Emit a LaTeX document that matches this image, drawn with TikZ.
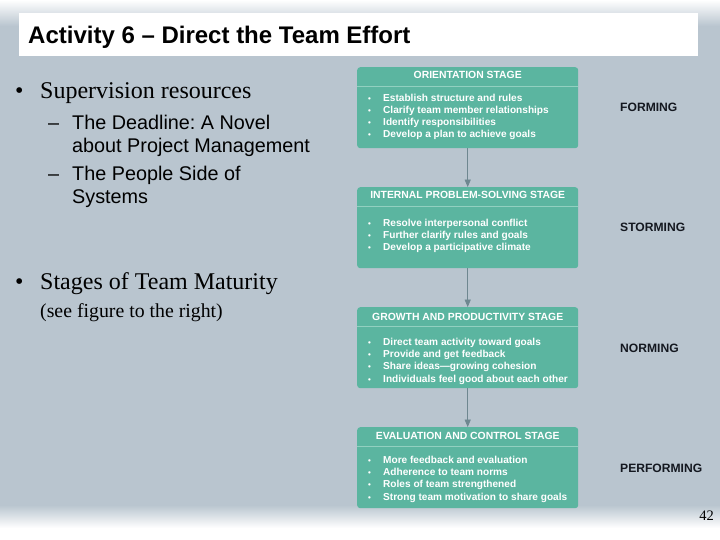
\documentclass[tikz,border=0pt]{standalone}
\usepackage{fontspec}
\setmainfont{Liberation Serif}
\setsansfont{Liberation Sans}
\usetikzlibrary{arrows,positioning}
\frenchspacing

\definecolor{slide}{HTML}{B9C5CF}
\definecolor{stage}{HTML}{5BB5A0}
\definecolor{stageline}{HTML}{92D0C0}
\definecolor{linkgray}{HTML}{6E8790}
\definecolor{ink}{HTML}{141820}

\tikzset{
  stagebox/.style={draw=none,fill=stage,rounded corners=3pt,
    minimum width=221pt,minimum height=81pt,anchor=north west,inner sep=0pt},
  stagehead/.style={text=white,font=\sffamily\bfseries\fontsize{10.4}{12}\selectfont,
    anchor=base,inner sep=0pt},
  stagebody/.style={text=white,font=\sffamily\bfseries\fontsize{10.1}{12.2}\selectfont,
    anchor=base west,align=left,inner sep=0pt},
  phase/.style={text=ink,font=\sffamily\bfseries\fontsize{12.1}{14}\selectfont,
    anchor=base west,inner sep=0pt},
  link/.style={draw=linkgray,line width=0.7pt,-triangle 45}
}
\newcommand{\itm}{\makebox[15pt][l]{\fontsize{8}{8}\selectfont\textbullet}}

\begin{document}
\begin{tikzpicture}[x=1pt,y=-1pt]
  \useasboundingbox (0,0) rectangle (720,540);
  % slide background
  \fill[slide] (0,0) rectangle (720,540);
  \shade[top color=white,bottom color=slide] (0,0) rectangle (720,26);
  \shade[top color=slide,bottom color=white] (0,505) rectangle (720,528);
  \fill[white] (0,528) rectangle (720,540);
  \fill[white] (19,13) rectangle (698,56);
  \node[anchor=base west,inner sep=0pt,font=\sffamily\bfseries\fontsize{24}{26}\selectfont]
    (title) at (28,44) {Activity 6 -- Direct the Team Effort};

  % left column
  \node[anchor=base west,inner sep=0pt,font=\fontsize{24}{26}\selectfont] (sup) at (15,99)
    {\makebox[25pt][l]{\textbullet}Supervision resources};
  \node[anchor=base west,inner sep=0pt,align=left,font=\sffamily\fontsize{19.8}{23}\selectfont]
    (books) at (48,204) {\makebox[24pt][l]{--}The Deadline: A Novel\\
      \hspace*{24pt}about Project Management\\[5pt]
      \makebox[24pt][l]{--}The People Side of\\
      \hspace*{24pt}Systems};
  \node[anchor=base west,inner sep=0pt,font=\fontsize{24}{26}\selectfont] (stg) at (15,289)
    {\makebox[25pt][l]{\textbullet}Stages of Team Maturity};
  \node[anchor=base west,inner sep=0pt,font=\fontsize{19.8}{22}\selectfont] (see) at (40,317)
    {(see figure to the right)};

  % stage boxes
  \node[stagebox] (orient) at (357,67) {};
  \node[stagebox] (solve) at (357,187) {};
  \node[stagebox] (growth) at (357,307) {};
  \node[stagebox] (control) at (357,427) {};
  \foreach \b in {orient,solve,growth,control}
    \draw[stageline,line width=0.8pt] ([yshift=-19pt]\b.north west) -- ([yshift=-19pt]\b.north east);

  \node[stagehead] (h1) at ([yshift=-12pt]orient.north) {ORIENTATION STAGE};
  \node[stagehead] (h2) at ([yshift=-12pt]solve.north) {INTERNAL PROBLEM-SOLVING STAGE};
  \node[stagehead] (h3) at ([yshift=-13pt]growth.north) {GROWTH AND PRODUCTIVITY STAGE};
  \node[stagehead] (h4) at ([yshift=-12pt]control.north) {EVALUATION AND CONTROL STAGE};

  \node[stagebody] (b1) at (368,138) {\itm Establish structure and rules\\
    \itm Clarify team member relationships\\ \itm Identify responsibilities\\
    \itm Develop a plan to achieve goals};
  \node[stagebody] (b2) at (368,251) {\itm Resolve interpersonal conflict\\
    \itm Further clarify rules and goals\\ \itm Develop a participative climate};
  \node[stagebody] (b3) at (368,382) {\itm Direct team activity toward goals\\
    \itm Provide and get feedback\\ \itm Share ideas---growing cohesion\\
    \itm Individuals feel good about each other};
  \node[stagebody] (b4) at (368,500) {\itm More feedback and evaluation\\
    \itm Adherence to team norms\\ \itm Roles of team strengthened\\
    \itm Strong team motivation to share goals};

  \draw[link] (orient) -- (solve);
  \draw[link] (solve) -- (growth);
  \draw[link] (growth) -- (control);

  % phase names
  \node[phase] (forming) at (620,112) {FORMING};
  \node[phase] (storming) at (620,232) {STORMING};
  \node[phase] (norming) at (620,352) {NORMING};
  \node[phase] (performing) at (620,472) {PERFORMING};

  \node[anchor=base east,inner sep=0pt,font=\fontsize{14.5}{16}\selectfont] (page) at (714,520) {42};
\end{tikzpicture}
\end{document}
